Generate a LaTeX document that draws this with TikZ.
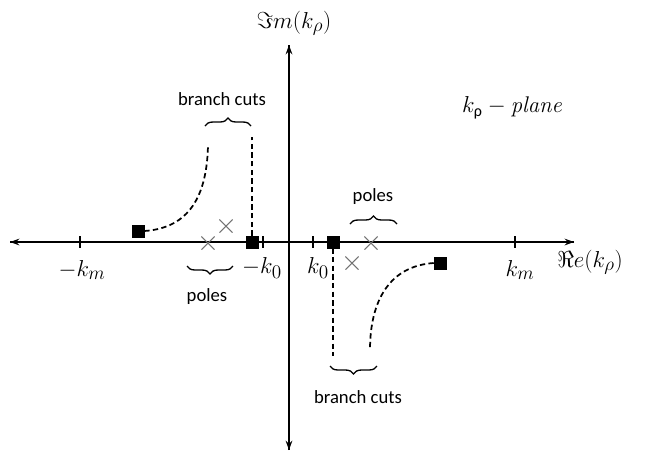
\documentclass[tikz,border=0pt]{standalone}
\usepackage{fontspec}
\newfontfamily\lblfont{Carlito}
\usetikzlibrary{arrows.meta,decorations.pathreplacing,shapes.misc}
\begin{document}
\begin{tikzpicture}[x=0.75pt,y=-0.75pt,
  axis/.style={line width=1.4pt,-{Stealth[length=7pt,width=5pt]}},
  tick/.style={line width=1.2pt},
  sq/.style={fill=black,draw=black,minimum size=9pt,inner sep=0pt,rectangle},
  pole/.style={cross out,draw=black!55,line width=0.8pt,minimum size=9pt,inner sep=0pt},
  cut/.style={dashed,dash pattern=on 4pt off 2.5pt,line width=1.3pt},
  brc/.style={decorate,decoration={brace,amplitude=6pt},line width=1pt},
  lbl/.style={font=\lblfont\fontsize{14}{16}\selectfont},
  mlbl/.style={font=\fontsize{19}{22}\selectfont,inner sep=0pt}]
\useasboundingbox (0,0) rectangle (654,455);
% axes
\coordinate (xl) at (10,242);
\coordinate (xr) at (574,242);
\coordinate (yb) at (289,450);
\coordinate (yt) at (289,45);
\draw[axis] (xr) -- (xl);
\draw[axis] (xl) -- (xr);
\draw[axis] (yt) -- (yb);
\draw[axis] (yb) -- (yt);
% ticks
\foreach \n/\x in {tkm/80,tko/263,tpo/313,tpm/515}{
  \coordinate (\n a) at (\x,236);
  \coordinate (\n b) at (\x,248);
  \draw[tick] (\n a) -- (\n b);
}
% tick labels
\node[mlbl] (lkm) at (82,270) {$-k_m$};
\node[mlbl] (lko) at (262,268) {$-k_0$};
\node[mlbl] (lpo) at (318,268) {$k_0$};
\node[mlbl] (lpm) at (520,270) {$k_m$};
\node[mlbl,anchor=west] (lre) at (557,262) {$\Re e\Bigl(k_{\rho}\Bigr)$};
\node[mlbl] (lim) at (294,23) {$\Im m\Bigl(k_{\rho}\Bigr)$};
\node[font=\fontsize{17}{20}\selectfont] (plane) at (512,108) {$k_{\mbox{\lblfont\fontsize{12}{14}\selectfont ρ}}-\mathit{plane}$};
% branch points
\node[sq] (s1) at (138,231) {};
\node[sq] (s2) at (252,242) {};
\node[sq] (s3) at (333,242) {};
\node[sq] (s4) at (440,263) {};
% poles
\node[pole] (p1) at (208,243) {};
\node[pole] (p2) at (226,226) {};
\node[pole] (p3) at (352,263) {};
\node[pole] (p4) at (371,243) {};
% cuts
\coordinate (c1) at (208,145);
\coordinate (c2) at (252,137);
\coordinate (c3) at (333,356);
\coordinate (c4) at (370,350);
\draw[cut] (s1.east) .. controls (190,228) and (207,195) .. (c1);
\draw[cut] (s2.north) -- (c2);
\draw[cut] (s3.south) -- (c3);
\draw[cut] (s4.west) .. controls (390,266) and (370,300) .. (c4);
% braces
\coordinate (b1l) at (205,126);
\coordinate (b1r) at (251,126);
\draw[brc] (b1l) -- (b1r);
\node[lbl] (t1) at (222,99) {branch cuts};
\coordinate (b2l) at (187,266);
\coordinate (b2r) at (233,266);
\draw[brc] (b2r) -- (b2l);
\node[lbl] (t2) at (207,297) {poles};
\coordinate (b3l) at (350,224);
\coordinate (b3r) at (397,224);
\draw[brc] (b3l) -- (b3r);
\node[lbl] (t3) at (373,197) {poles};
\coordinate (b4l) at (330,366);
\coordinate (b4r) at (377,366);
\draw[brc] (b4r) -- (b4l);
\node[lbl] (t4) at (358,397) {branch cuts};
\end{tikzpicture}
\end{document}
